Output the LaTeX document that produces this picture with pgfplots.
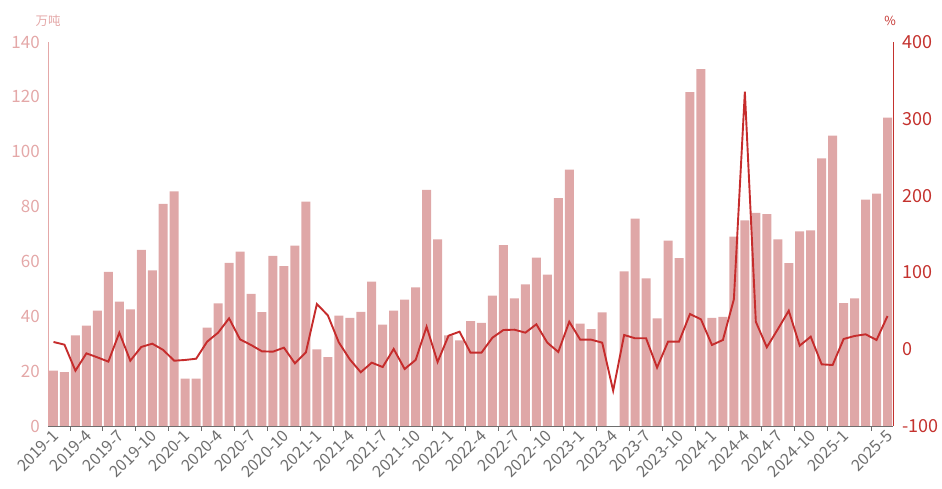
\documentclass[border=0pt]{standalone}
\usepackage{pgfplots}
\pgfplotsset{compat=1.18}
\usepackage{pgfplotstable}
\usetikzlibrary{calc}
\usepackage{fontspec}
\setmainfont{Noto Sans CJK SC}
\definecolor{barpink}{RGB}{223,167,167}
\definecolor{axpink}{RGB}{228,168,168}
\definecolor{linered}{RGB}{198,44,44}
\definecolor{axred}{RGB}{196,50,46}
\definecolor{axgray}{RGB}{110,110,110}

% monthly volume (万吨), 2019-1 .. 2025-5
\pgfplotstableread{
x v
0 20.2
1 19.6
2 33.0
3 36.6
4 42.1
5 56.2
6 45.3
7 42.5
8 64.2
9 56.7
10 81.0
11 85.5
12 17.3
13 17.3
14 35.9
15 44.7
16 59.5
17 63.6
18 48.2
19 41.5
20 62.0
21 58.3
22 65.8
23 81.8
24 27.9
25 25.1
26 40.2
27 39.4
28 41.6
29 52.6
30 37.0
31 42.1
32 46.1
33 50.5
34 86.1
35 68.0
36 33.0
37 31.2
38 38.2
39 37.6
40 47.5
41 65.9
42 46.5
43 51.6
44 61.4
45 55.2
46 83.1
47 93.5
48 37.3
49 35.3
50 41.4
51 nan
52 56.4
53 75.6
54 53.8
55 39.2
56 67.6
57 61.2
58 121.7
59 130.1
60 39.4
61 39.8
62 69.0
63 75.0
64 77.7
65 77.2
66 68.0
67 59.4
68 71.0
69 71.3
70 97.6
71 105.9
72 44.8
73 46.5
74 82.5
75 84.7
76 112.4
}\bars

% year-on-year change (%)
\pgfplotstableread{
x p
0 9.4
1 5.9
2 -28.0
3 -5.4
4 -10.6
5 -16.2
6 21.5
7 -15.0
8 2.9
9 7.2
10 -1.0
11 -15.0
12 -14.0
13 -12.4
14 9.8
15 21.5
16 40.2
17 12.8
18 5.5
19 -2.8
20 -3.2
21 2.0
22 -18.4
23 -4.1
24 58.8
25 44.1
26 8.9
27 -13.2
28 -30.0
29 -17.5
30 -23.2
31 0.3
32 -25.8
33 -14.0
34 29.3
35 -16.7
36 17.6
37 22.8
38 -4.5
39 -4.5
40 15.0
41 25.0
42 25.4
43 21.5
44 32.4
45 8.5
46 -3.6
47 35.8
48 12.4
49 12.4
50 8.5
51 -54.0
52 18.5
53 14.2
54 14.2
55 -24.0
56 9.8
57 9.8
58 45.8
59 38.9
60 5.5
61 12.0
62 65.0
63 335.3
64 35.8
65 2.5
66 25.9
67 50.1
68 4.6
69 16.3
70 -19.7
71 -20.6
72 13.3
73 17.2
74 19.4
75 12.0
76 43.2
}\yoy

\begin{document}
\begin{tikzpicture}
\pgfplotsset{
  every axis/.append style={
    scale only axis, width=845pt, height=384pt,
    xmin=-0.5, xmax=76.5,
    /pgf/number format/assume math mode=true,
    major tick length=0pt,
    at={(0,0)}, anchor=south west,
  },
}
\begin{axis}[
    name=ax,
    ymin=0, ymax=140, ytick={0,20,...,140},
    axis x line*=bottom, axis y line*=left,
    x axis line style={-, axgray, line width=0.8pt},
    y axis line style={-, axpink, line width=0.8pt},
    ytick style={draw=none},
    yticklabel style={font=\fontsize{17}{17}\selectfont, text=axpink, inner sep=0pt, xshift=-8pt},
    xtick={0,3,...,72,76},
    xticklabels={2019-1,2019-4,2019-7,2019-10,2020-1,2020-4,2020-7,2020-10,
      2021-1,2021-4,2021-7,2021-10,2022-1,2022-4,2022-7,2022-10,
      2023-1,2023-4,2023-7,2023-10,2024-1,2024-4,2024-7,2024-10,2025-1,2025-5},
    major x tick style={draw=none},
    minor xtick={1.5,4.5,...,70.5,74.5},
    minor x tick style={draw=axgray, line width=0.8pt},
    minor tick length=5pt, xtick align=outside,
    xticklabel style={font=\fontsize{16}{16}\selectfont, text=axgray, inner sep=0pt,
      yshift=-7pt, xshift=2pt, rotate=45, anchor=east},
    ybar, bar width=0.82, bar shift=0pt,
    clip=false,
]
\addplot[fill=barpink, draw=none] table[x=x, y=v] {\bars};
\end{axis}
\begin{axis}[
    ymin=-100, ymax=400, ytick={-100,0,...,400},
    axis x line=none, axis y line*=right,
    y axis line style={-, axred, line width=0.8pt},
    ytick style={draw=none},
    yticklabel style={font=\fontsize{18}{18}\selectfont, text=axred, inner sep=0pt, xshift=9pt},
]
\addplot[linered, line width=1.9pt, mark=none] table[x=x, y=p] {\yoy};
\end{axis}
\node[text=axpink, font=\fontsize{12.5}{12.5}\selectfont] at ($(ax.north west)+(0pt,21pt)$) {万吨};
\node[text=axred, font=\fontsize{12.5}{12.5}\selectfont] at ($(ax.north east)+(-3pt,21pt)$) {\%};
\pgfresetboundingbox
\path ($(ax.south west)+(-48pt,-63pt)$) rectangle ($(ax.north east)+(49pt,42pt)$);
\end{tikzpicture}
\end{document}
